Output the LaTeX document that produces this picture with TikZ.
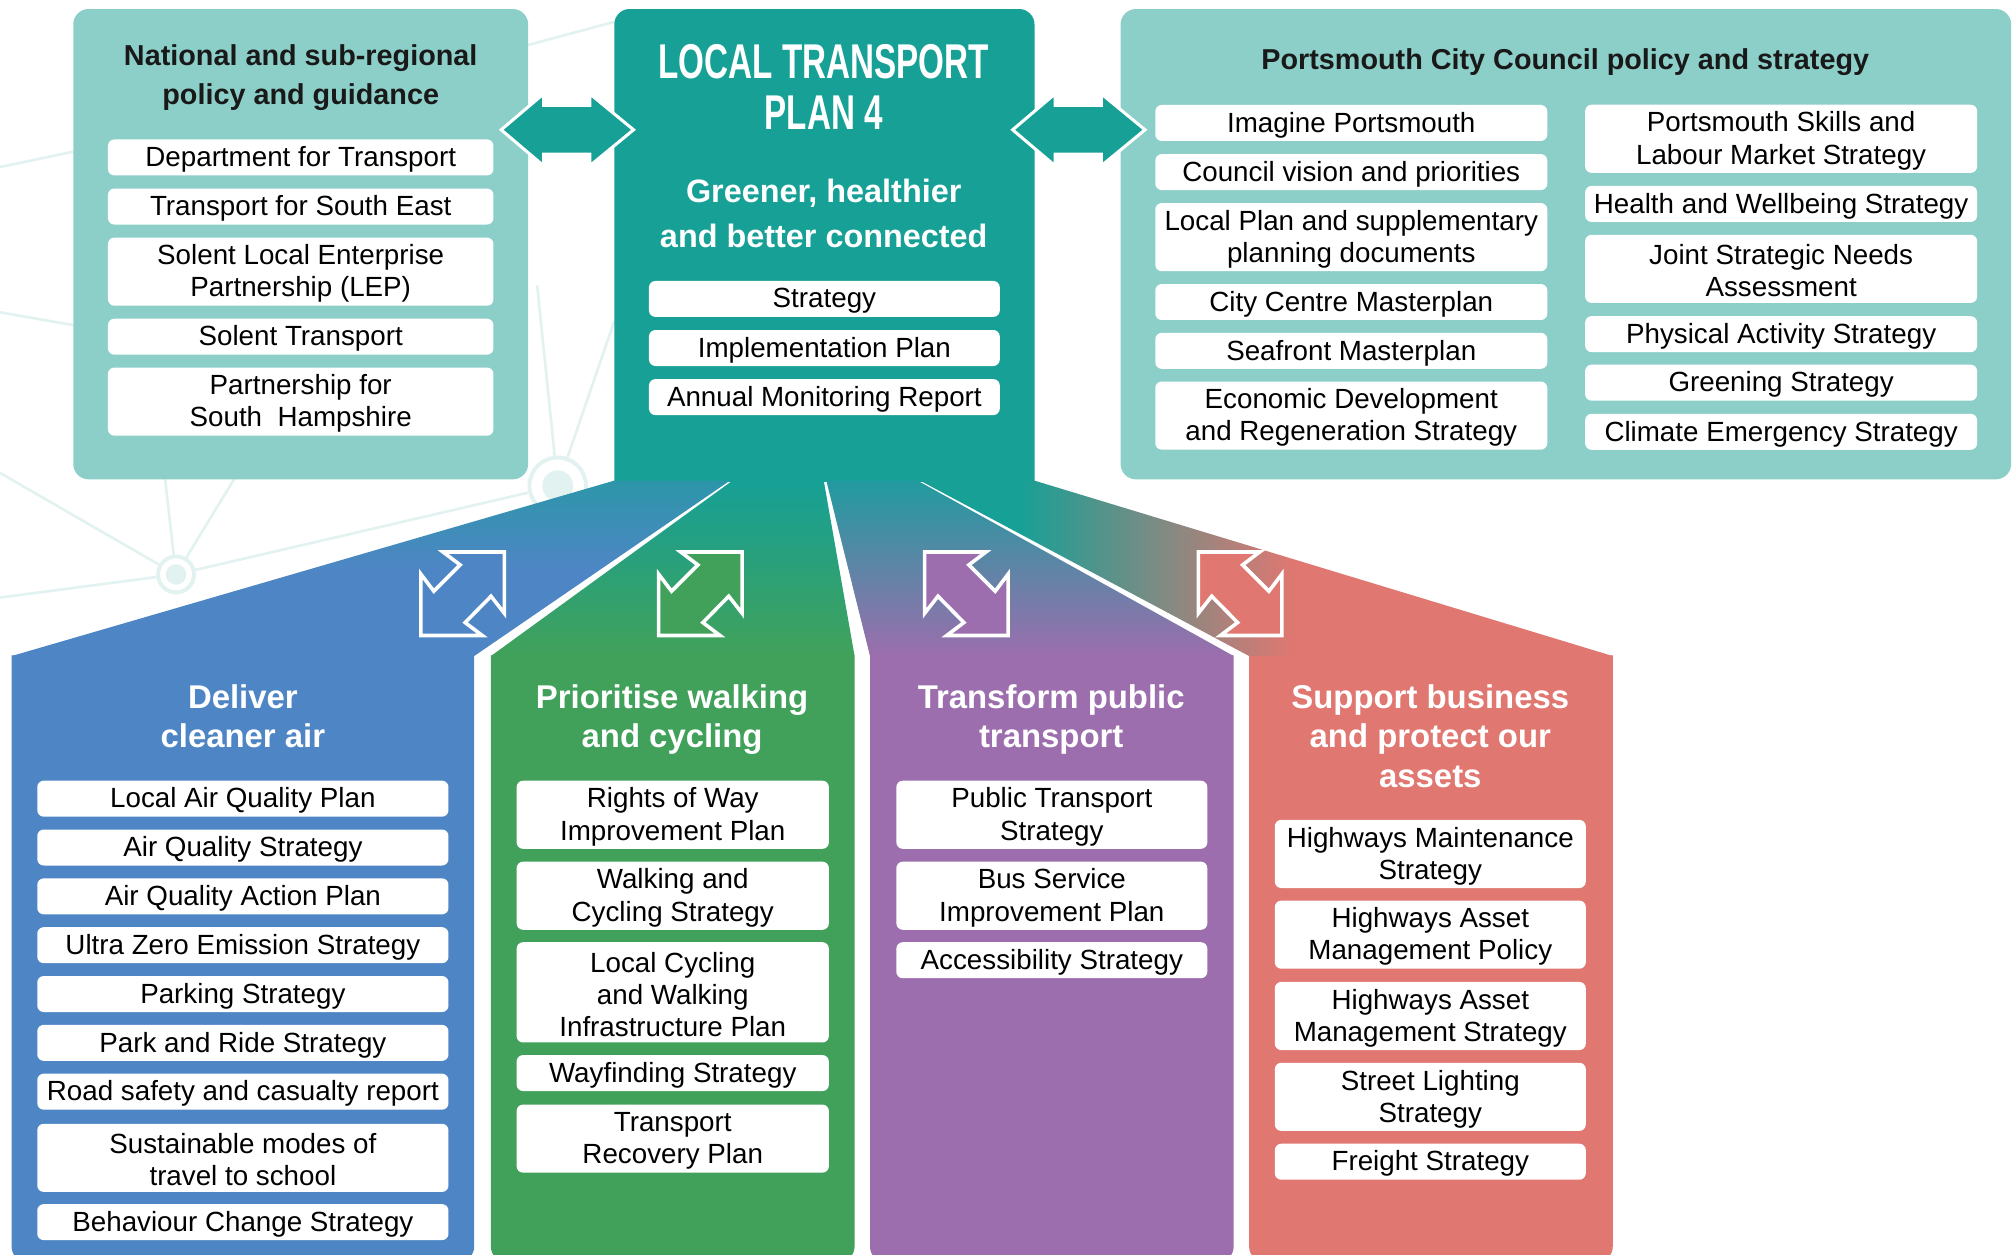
\documentclass[tikz,border=0pt]{standalone}
\usepackage{fontspec}
\setmainfont{Liberation Sans}
\usepackage{xcolor}
\usepackage{graphicx}
\usepackage{tikz}
\usetikzlibrary{positioning}
\usetikzlibrary{calc}
\pgfdeclarelayer{bg}
\pgfsetlayers{bg,main}

\definecolor{tealc}{HTML}{16A096}
\definecolor{lteal}{HTML}{8CCFC9}
\definecolor{bluec}{HTML}{4E86C5}
\definecolor{greenc}{HTML}{41A15A}
\definecolor{purplec}{HTML}{9C6EAD}
\definecolor{redc}{HTML}{E07771}
\definecolor{netc}{HTML}{E2F2F0}
\colorlet{blueroofc}{bluec!40!tealc}
\colorlet{purpleroofc}{tealc!80!bluec}
\pgfdeclareverticalshading{blueroof}{100bp}{color(0bp)=(bluec); color(50bp)=(bluec); color(75bp)=(blueroofc); color(100bp)=(blueroofc)}
\pgfdeclarehorizontalshading{redroof}{100bp}{color(0bp)=(tealc); color(32bp)=(tealc); color(52bp)=(redc); color(100bp)=(redc)}

\begin{document}
\begin{tikzpicture}[x=0.5pt, y=-0.5pt,
	item/.style={fill=white, rounded corners=2.5pt, inner sep=0pt},
	itemtext/.style={inner sep=0pt, align=center, text=black, font=\fontsize{10.8}{12.5}\selectfont},
	boxtitle/.style={align=center, text=black!90, font=\bfseries\fontsize{11.2}{15}\selectfont},
	coltitle/.style={anchor=north, inner sep=0pt, align=center, text=white, font=\bfseries\fontsize{12.8}{15.5}\selectfont},
	net/.style={draw=netc, line width=1pt},
	hub/.style={circle, draw=netc, line width=1.5pt, fill=white, inner sep=0pt},
	dblarrow/.style={fill=tealc, draw=white, line width=1.2pt, line join=miter},
	icon/.style={draw=white, line width=1.4pt, line join=miter}]
	\useasboundingbox (0,0) rectangle (1568,976);
	
	% faint network behind
	\begin{pgfonlayer}{bg}
		\fill[white] (0,0) rectangle (1568,976);
		\node[hub, minimum size=14pt] (hubA) at (137,447) {};
		\node[circle, fill=netc, minimum size=8pt, inner sep=0pt] (hubAin) at (hubA) {};
		\node[hub, minimum size=22pt] (hubB) at (434,378) {};
		\node[circle, fill=netc, minimum size=12pt, inner sep=0pt] (hubBin) at (hubB) {};
		\coordinate (n1) at (0,368);
		\coordinate (n2) at (0,465);
		\coordinate (n3) at (120,300);
		\coordinate (n4) at (190,360);
		\coordinate (n5) at (418,222);
		\coordinate (n6) at (478,250);
		\draw[net] (hubA) -- (hubB);
		\foreach \n in {n1, n2, n3, n4}
		{
			\draw[net] (hubA) -- (\n);
		}
		\draw[net] (hubB) -- (n5);
		\draw[net] (hubB) -- (n6);
		\draw[net] (0,130) -- (57,118);
		\draw[net] (0,243) -- (57,253);
		\draw[net] (411,35) -- (478,17);
	\end{pgfonlayer}
	
	% top panels
	\fill[lteal, rounded corners=6pt] (57,7) rectangle (411,373);
	\fill[lteal, rounded corners=6pt] (872,7) rectangle (1565,373);
	\fill[tealc] (478,375) -- (478,200) [rounded corners=6pt] -- (478,7) -- (805,7) -- (805,200) [sharp corners] -- (805,375) -- cycle;
	
	% columns
	\foreach \xa/\xb/\col in {9/369/bluec, 382/665/greenc, 677/960/purplec, 972/1255/redc}
	{
		\fill[\col] (\xa,510) -- (\xa,800) [rounded corners=6pt] -- (\xa,982) -- (\xb,982) -- (\xb,800) [sharp corners] -- (\xb,510) -- cycle;
	}
	
	% roof
	\shade[shading=blueroof] (478,374) -- (568,374) -- (369,510.5) -- (9,510.5) -- cycle;
	\shade[top color=tealc, bottom color=greenc] (570,374) -- (641,374) -- (665,510.5) -- (382,510.5) -- cycle;
	\shade[top color=purpleroofc, bottom color=purplec] (643,374) -- (714,374) -- (960,510.5) -- (677,510.5) -- cycle;
	\shade[shading=redroof] (716,374) -- (805,374) -- (1255,510.5) -- (972,510.5) -- cycle;
	
	% diagonal double arrows
	\foreach \cx/\m/\col in {360/1/bluec, 545/1/greenc, 752/-1/purplec, 965/-1/redc}
	{
		\begin{scope}[shift={(\cx,462)}, xscale=32.5*\m, yscale=32.5]
			\filldraw[icon, fill=\col] (-0.47,-1) -- (1,-1) -- (1,0.47) -- (0.68,0.06) -- (0.06,0.69) -- (0.47,1) -- (-1,1) -- (-1,-0.47) -- (-0.69,-0.06) -- (-0.06,-0.69) -- cycle;
		\end{scope}
	}
	
	% horizontal double arrows
	\foreach \dx in {0, 398}
	{
		\begin{scope}[shift={(\dx,0)}]
			\filldraw[dblarrow] (390,101) -- (423,73) -- (423,82) -- (459,82) -- (459,73) -- (493,101) -- (459,129) -- (459,120) -- (423,120) -- (423,129) -- cycle;
		\end{scope}
	}
	
	% titles
	\node[boxtitle] (natTitle) at (234,60.5) {National and sub-regional\\policy and guidance};
	\node[boxtitle] (pccTitle) at (1218,48.5) {Portsmouth City Council policy and strategy};
	\node[text=white, font=\bfseries\fontsize{19}{20}\selectfont] (ltpTop) at (641,48) {\scalebox{0.68}[1]{LOCAL TRANSPORT}};
	\node[text=white, font=\bfseries\fontsize{19}{20}\selectfont] (ltpBottom) at (641,88) {\scalebox{0.68}[1]{PLAN 4}};
	\node[align=center, text=white, font=\bfseries\fontsize{12.6}{17.5}\selectfont] (vision) at (641,166) {Greener, healthier\\and better connected};
	\node[coltitle] (blueTitle) at (189,532) {Deliver\\cleaner air};
	\node[coltitle] (greenTitle) at (523,532) {Prioritise walking\\and cycling};
	\node[coltitle] (purpleTitle) at (818,532) {Transform public\\transport};
	\node[coltitle] (redTitle) at (1113,532) {Support business\\and protect our\\assets};
	
	% items
	\foreach \y/\nl/\txt [count=\i] in {122.5/1/Department for Transport, 160.7/1/Transport for South East, 211.4/2/Solent Local Enterprise\\Partnership (LEP), 262/1/Solent Transport, 312.5/2/Partnership for\\South\ \ Hampshire}
	{
		\node[item, minimum width=150pt, minimum height={(12.5*\nl+1.5)*1pt}] (nat\i) at (234,\y) {};
		\node[itemtext] (nat\i t) at ([yshift=-0.8pt]nat\i.center) {\txt};
	}
	\foreach \y/\nl/\txt [count=\i] in {232.6/1/Strategy, 270.8/1/Implementation Plan, 309/1/Annual Monitoring Report}
	{
		\node[item, minimum width=136.5pt, minimum height={(12.5*\nl+1.5)*1pt}] (ltp\i) at (641.5,\y) {};
		\node[itemtext] (ltp\i t) at ([yshift=-0.8pt]ltp\i.center) {\txt};
	}
	\foreach \y/\nl/\txt [count=\i] in {95.7/1/Imagine Portsmouth, 133.9/1/Council vision and priorities, 184.5/2/Local Plan and supplementary\\planning documents, 235/1/City Centre Masterplan, 273/1/Seafront Masterplan, 323.4/2/Economic Development\\and Regeneration Strategy}
	{
		\node[item, minimum width=152.5pt, minimum height={(12.5*\nl+1.5)*1pt}] (pccL\i) at (1051.5,\y) {};
		\node[itemtext] (pccL\i t) at ([yshift=-0.8pt]pccL\i.center) {\txt};
	}
	\foreach \y/\nl/\txt [count=\i] in {108/2/Portsmouth Skills and\\Labour Market Strategy, 158.7/1/Health and Wellbeing Strategy, 209.2/2/Joint Strategic Needs\\Assessment, 260/1/Physical Activity Strategy, 297.8/1/Greening Strategy, 336/1/Climate Emergency Strategy}
	{
		\node[item, minimum width=152.5pt, minimum height={(12.5*\nl+1.5)*1pt}] (pccR\i) at (1386,\y) {};
		\node[itemtext] (pccR\i t) at ([yshift=-0.8pt]pccR\i.center) {\txt};
	}
	\foreach \y/\nl/\txt [count=\i] in {621.5/1/Local Air Quality Plan, 659.5/1/Air Quality Strategy, 697.5/1/Air Quality Action Plan, 735.5/1/Ultra Zero Emission Strategy, 773.5/1/Parking Strategy, 811.5/1/Park and Ride Strategy, 849.5/1/Road safety and casualty report, 901/2/Sustainable modes of\\travel to school, 951/1/Behaviour Change Strategy}
	{
		\node[item, minimum width=160pt, minimum height={(12.5*\nl+1.5)*1pt}] (blue\i) at (189,\y) {};
		\node[itemtext] (blue\i t) at ([yshift=-0.8pt]blue\i.center) {\txt};
	}
	\foreach \y/\nl/\txt [count=\i] in {634/2/Rights of Way\\Improvement Plan, 697/2/Walking and\\Cycling Strategy, 772.2/3/Local Cycling\\and Walking\\Infrastructure Plan, 835/1/Wayfinding Strategy, 886/2/Transport\\Recovery Plan}
	{
		\node[item, minimum width=121.5pt, minimum height={(12.5*\nl+1.5)*1pt}] (green\i) at (523.5,\y) {};
		\node[itemtext] (green\i t) at ([yshift=-0.8pt]green\i.center) {\txt};
	}
	\foreach \y/\nl/\txt [count=\i] in {634/2/Public Transport\\Strategy, 697/2/Bus Service\\Improvement Plan, 747.2/1/Accessibility Strategy}
	{
		\node[item, minimum width=121pt, minimum height={(12.5*\nl+1.5)*1pt}] (purple\i) at (818.5,\y) {};
		\node[itemtext] (purple\i t) at ([yshift=-0.8pt]purple\i.center) {\txt};
	}
	\foreach \y/\nl/\txt [count=\i] in {664.5/2/Highways Maintenance\\Strategy, 727.3/2/Highways Asset\\Management Policy, 790.6/2/Highways Asset\\Management Strategy, 853.5/2/Street Lighting\\Strategy, 904/1/Freight Strategy}
	{
		\node[item, minimum width=121pt, minimum height={(12.5*\nl+1.5)*1pt}] (red\i) at (1113,\y) {};
		\node[itemtext] (red\i t) at ([yshift=-0.8pt]red\i.center) {\txt};
	}
\end{tikzpicture}
\end{document}
